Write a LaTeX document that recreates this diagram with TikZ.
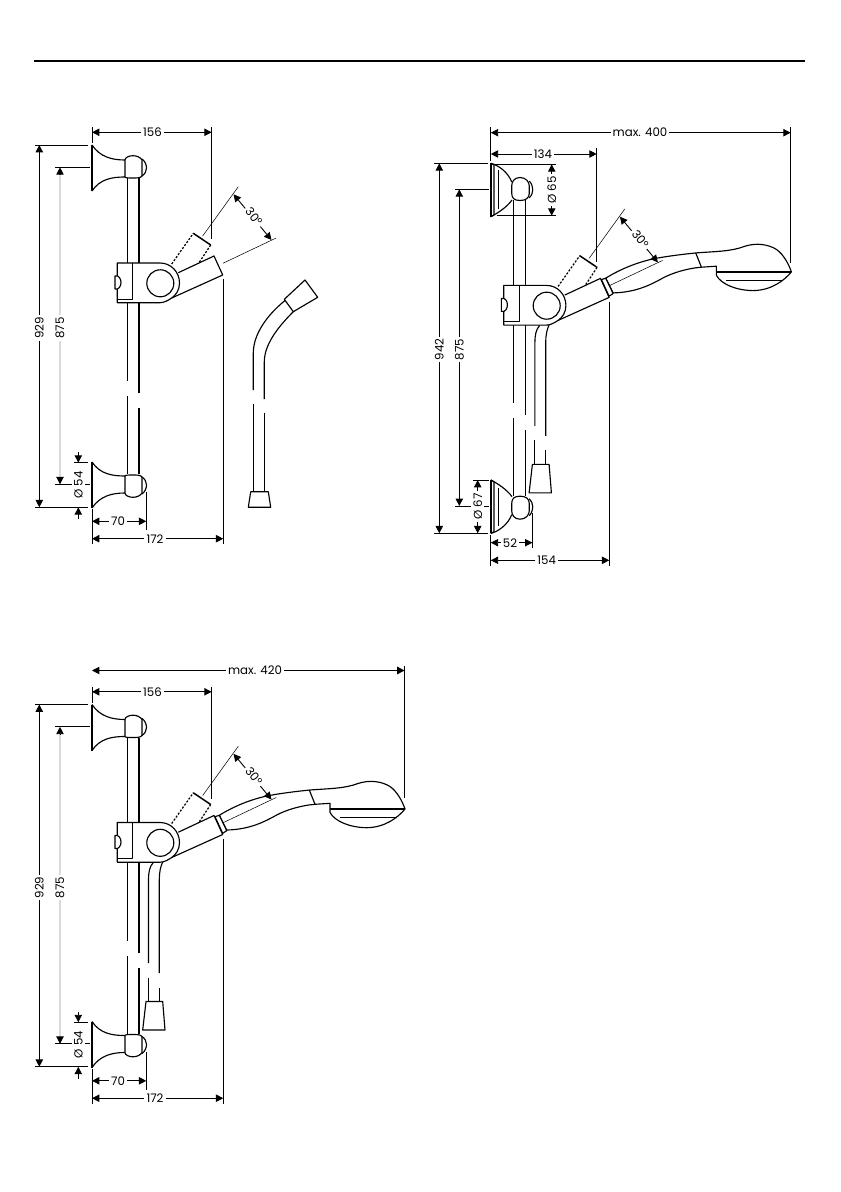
\documentclass[tikz,border=0pt]{standalone}
\usepackage{fontspec}
\setmainfont{Poppins}
\usetikzlibrary{arrows.meta}
\tikzset{
  outline/.style={line width=0.65pt,line join=round},
  heavy/.style={line width=0.85pt,line join=round},
  thinline/.style={line width=0.3pt},
  extline/.style={line width=0.45pt},
  dimline/.style={line width=0.5pt,<->,>={Triangle[length=4.2pt,width=4.2pt]}},
  oneway/.style={line width=0.5pt,->,>={Triangle[length=4.2pt,width=4.2pt]}},
  dimtext/.style={font=\fontsize{6.7}{8}\selectfont,fill=white,inner sep=1.2pt},
  hidden/.style={line width=0.7pt,dash pattern=on 1.2pt off 0.9pt},
  faint/.style={line width=1.1pt,gray!30}
}
% horizontal and vertical dimension: name, two ends, position, place of the label, text
\newcommand{\hdim}[6]{
  \coordinate (#1a) at (#2,#4);
  \coordinate (#1b) at (#3,#4);
  \draw[dimline] (#1a) -- (#1b);
  \node[dimtext] (#1) at (#5,#4) {#6};
}
\newcommand{\vdim}[6]{
  \coordinate (#1a) at (#2,#3);
  \coordinate (#1b) at (#2,#4);
  \draw[dimline] (#1a) -- (#1b);
  \node[dimtext,rotate=90] (#1) at (#2,#5) {#6};
}
% rail with its two breaks
\newcommand{\railbar}{
  \draw[outline] (127.3,178) -- (127.3,381);
  \draw[outline] (127.3,396) -- (127.3,474);
  \draw[heavy] (139,178) -- (139,393);
  \draw[heavy] (139,408) -- (139,474);
}
% clamp, swivel arm, hidden position and the 30 degree dimension
\newcommand{\clamparm}[1]{
  \draw[hidden] (171.7,264) -- (193.3,233.3);
  \draw[hidden] (210.7,245) -- (199,262.7);
  \draw[heavy] (193.3,233.3) -- (210.7,245);
  \draw[outline,fill=white] (178.3,272.7) -- (214,256) -- (222.7,275) -- (171.7,298);
  \draw[outline,fill=white] (117.3,263) -- (160,263) .. controls (171,263) and (179.5,272) .. (179.5,283) .. controls (179.5,290) and (176,295) .. (171.7,298) .. controls (168,300.5) and (164,302.7) .. (160,302.7) -- (117.3,302.7) -- cycle;
  \draw[outline] (132.7,263) -- (132.7,299.3) -- (117.3,299.3);
  \draw[outline,fill=white] (115,276) -- (115,289) .. controls (119,290) and (121,286) .. (121,282.5) .. controls (121,279) and (119,275) .. (115,276) -- cycle;
  \draw[outline] (160.3,283.3) circle (13.5);
  \coordinate (#1a) at (233.5,194.3);
  \coordinate (#1b) at (271.5,240);
  \draw[dimline] (#1a) -- (#1b);
  \node[dimtext,rotate=-52] (#1) at (254,216.5) {30°};
}
\newcommand{\swivelguides}{
  \draw[thinline] (202.7,236) -- (238.3,186.7);
  \draw[thinline] (222.9,263.3) -- (276.2,238);
}
% shower head with its hose
\newcommand{\handset}{
  \draw[outline,fill=white] (219.3,255.8) .. controls (235,246) and (255,238) .. (275,235) .. controls (287,233) and (300,231.5) .. (310,230.5) .. controls (330,229) and (345,229) .. (358,224) .. controls (370,220) and (382,222) .. (390,227) .. controls (397,232) and (402,241) .. (405,249.5)
    .. controls (398,258) and (385,268) .. (366.7,268.2) .. controls (350,268) and (335,262) .. (330,253) -- (330,243.8) -- (315,244.8) .. controls (300,246) and (285,251) .. (276.7,255.5) .. controls (265,262) and (250,270) .. (226.7,270.5) -- cycle;
  \draw[outline] (309.3,230.5) -- (315,244.8);
  \draw[heavy] (330,249.5) -- (405,249.5);
  \draw[heavy] (340,258.2) -- (396.7,258.2);
  \draw[outline,fill=white] (215,257.2) -- (219.3,255.8) -- (226.7,271.2) -- (222.7,273.8) -- cycle;
  \draw[outline] (153.3,303) .. controls (149.5,307) and (148.5,313) .. (148.5,320) -- (148.5,403.5);
  \draw[outline] (148.5,418) -- (148.5,442);
  \draw[outline] (162.7,302.5) .. controls (160.5,307) and (159.3,313) .. (159.3,320) -- (159.3,413.5);
  \draw[outline] (159.3,428) -- (159.3,442);
  \draw[outline] (146,442) -- (162.7,442) -- (165,470.5) -- (142.7,470.5) -- cycle;
}
% bell shaped wall mount and knob, centred on y=0
\newcommand{\bellknob}{
  \draw[heavy] (92,-23) -- (92,23);
  \draw[outline] (92,-23) .. controls (100,-11) and (112,-8) .. (125,-8);
  \draw[outline] (92,23) .. controls (100,11) and (112,9) .. (125,9);
  \draw[outline,fill=white] (125,9) -- (125,-8) .. controls (125,-10.5) and (129,-12.3) .. (133,-12.3) .. controls (137,-12.3) and (140.5,-10.5) .. (142,-8) -- (142,8) .. controls (140.5,10) and (137,10) .. (133,10) .. controls (129,10) and (125,10) .. (125,9) -- cycle;
  \draw[outline] (142,-9) .. controls (145,-7) and (146.5,-3) .. (146.5,0) .. controls (146.5,3) and (145,6) .. (142,8);
}
% round stepped wall mount of the middle unit
\newcommand{\roundknob}{
  \draw[heavy] (490.8,-26.7) -- (490.8,26.7);
  \draw[outline] (490.8,-26.7) -- (494,-25) -- (494,25) -- (490.8,26.7);
  \draw[heavy] (498.3,-19.5) -- (498.3,19);
  \draw[outline] (490.8,-26.7) .. controls (498,-25) and (508,-18) .. (511.7,-8);
  \draw[outline] (490.8,26.7) .. controls (498,23) and (507,17) .. (512,10);
  \draw[outline,fill=white] (511.7,-4) .. controls (511.7,-8) and (514,-12.5) .. (520,-12.5) .. controls (526,-12.5) and (529.3,-8) .. (529.3,-4) -- (529.3,3) .. controls (529.3,8) and (526,10.5) .. (520,10.5) .. controls (514,10.5) and (511.7,8) .. (511.7,3) -- cycle;
  \draw[outline] (529.3,-9) .. controls (531.5,-7) and (532.7,-3) .. (532.7,0) .. controls (532.7,3) and (531.5,6) .. (529.3,8);
}
% everything that the left and the lower unit share
\newcommand{\unitparts}[1]{
  \railbar
  \begin{scope}[shift={(0,168)}]
    \bellknob
  \end{scope}
  \begin{scope}[shift={(0,485)},yscale=-1]
    \bellknob
  \end{scope}
  \clamparm{#1angle}
  \draw[extline] (92,127) -- (92,143);
  \draw[extline] (211.7,127) -- (211.7,239);
  \draw[extline] (35,145) -- (88,145);
  \draw[extline] (35,507.3) -- (88,507.3);
  \draw[extline] (55,167.3) -- (90,167.3);
  \draw[extline] (55,484.3) -- (72,484.3);
  \draw[extline] (83,484.3) -- (90,484.3);
  \draw[extline] (74,462.7) -- (88,462.7);
  \draw[extline] (74,507.3) -- (88,507.3);
  \draw[extline] (92,509) -- (92,544);
  \draw[extline] (146.3,492) -- (146.3,530);
  \draw[extline] (223.3,279) -- (223.3,544);
  \hdim{#1one}{92}{211.7}{132.3}{152.5}{156}
  \vdim{#1two}{39.3}{145}{507.3}{328}{929}
  \draw[faint] (60,170) -- (60,481);
  \node[dimtext,rotate=90] (#1three) at (60,328) {875};
  \coordinate (#1threea) at (60,175);
  \coordinate (#1threeb) at (60,477);
  \draw[oneway] (#1threea) -- (60,167.3);
  \draw[oneway] (#1threeb) -- (60,484.3);
  \coordinate (#1foura) at (78.3,452.3);
  \coordinate (#1fourb) at (78.3,519);
  \draw[oneway] (#1foura) -- (78.3,462.7);
  \draw[oneway] (#1fourb) -- (78.3,507.3);
  \node[dimtext,rotate=90] (#1four) at (78.3,485) {Ø 54};
  \hdim{#1five}{92}{146.3}{521.3}{118}{70}
  \hdim{#1six}{92}{223.3}{538.7}{155}{172}
}

\begin{document}
\begin{tikzpicture}[x=0.02cm,y=-0.02cm]
  \useasboundingbox (0,0) rectangle (840,1192);
  \draw[line width=1.15pt] (34,61) -- (805,61);

  % left unit with loose hose
  \unitparts{left}
  \swivelguides
  \draw[outline,fill=white] (284.3,299.3) -- (305,280) -- (317.7,297.3) -- (293.3,311.7) -- cycle;
  \draw[outline] (285,300.5) .. controls (266,316) and (253.3,335) .. (253.3,353) -- (253.3,390);
  \draw[outline] (253.3,404) -- (253.3,491.7);
  \draw[outline] (293.3,311.7) .. controls (277,328) and (264.3,345) .. (264.3,362) -- (264.3,399);
  \draw[outline] (264.3,412.7) -- (264.3,491.7);
  \draw[outline] (250.7,491.7) -- (268.3,491.7) -- (270.7,507.3) -- (248.3,507.3) -- cycle;

  % right unit
  \begin{scope}[shift={(386.4,22.4)}]
    \railbar
    \handset
    \clamparm{rightangle}
    \swivelguides
  \end{scope}
  \begin{scope}[shift={(0,190)}]
    \roundknob
  \end{scope}
  \begin{scope}[shift={(0,506.7)},yscale=-1]
    \roundknob
  \end{scope}
  \draw[extline] (490.8,127) -- (490.8,161);
  \draw[extline] (790.7,127) -- (790.7,263);
  \draw[extline] (596.7,148) -- (596.7,261.7);
  \draw[extline] (434,163.3) -- (488,163.3);
  \draw[extline] (434,533.3) -- (488,533.3);
  \draw[extline] (455,189.3) -- (489,189.3);
  \draw[extline] (455,506) -- (472,506);
  \draw[extline] (483,506) -- (489,506);
  \draw[extline] (473,480) -- (489,480);
  \draw[extline] (491,164.3) -- (556,164.3);
  \draw[extline] (496.7,215.7) -- (556,215.7);
  \draw[extline] (490.8,535) -- (490.8,566);
  \draw[extline] (532.4,513) -- (532.4,548);
  \draw[extline] (609.3,301.7) -- (609.3,566);
  \hdim{rightmax}{490.8}{790.7}{132.7}{640}{max. 400}
  \hdim{rightone}{490.8}{596.7}{154}{543}{134}
  \vdim{righttwo}{439.3}{163.3}{533.3}{349.5}{942}
  \vdim{rightthree}{459.3}{189.3}{506}{349.5}{875}
  \vdim{rightfour}{551.7}{164.3}{215.7}{190}{Ø 65}
  \vdim{rightfive}{477.7}{480}{533.3}{506.7}{Ø 67}
  \hdim{rightsix}{490.8}{532.4}{542.7}{510}{52}
  \hdim{rightseven}{490.8}{609.3}{560.3}{546.7}{154}

  % lower unit
  \begin{scope}[shift={(0,559.5)}]
    \handset
    \unitparts{low}
    \swivelguides
    \draw[extline] (404.6,106) -- (404.6,238);
    \hdim{lowmax}{92}{404.6}{111}{255}{max. 420}
  \end{scope}
\end{tikzpicture}
\end{document}
